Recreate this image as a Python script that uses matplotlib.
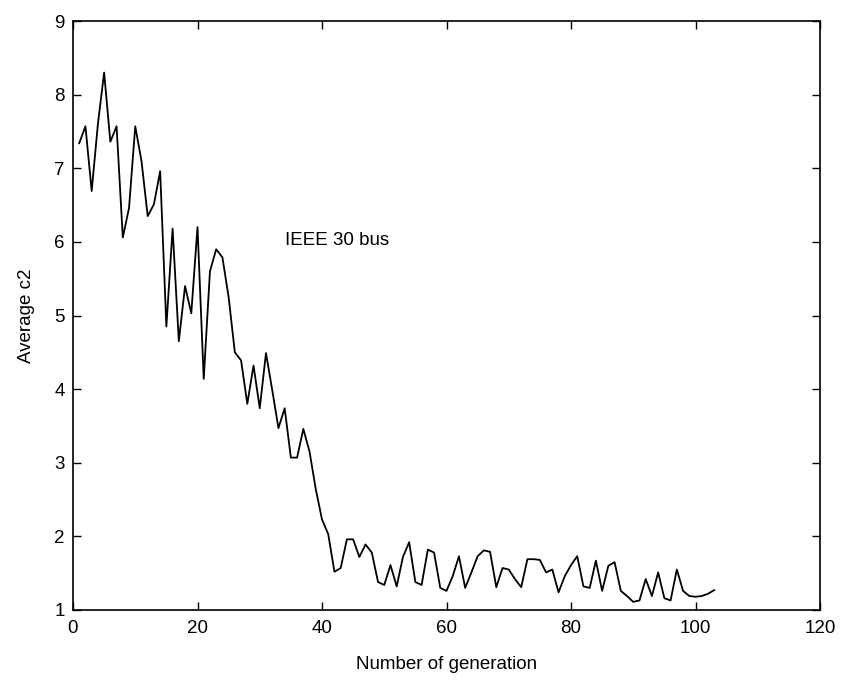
import matplotlib
matplotlib.use("Agg")
import matplotlib.pyplot as plt

# average c2 per generation
generation = list(range(1, 104))
avg_c2 = [
    7.34, 7.57, 6.69, 7.60, 8.30, 7.36, 7.57, 6.06, 6.46, 7.57,
    7.10, 6.35, 6.51, 6.96, 4.85, 6.18, 4.65, 5.40, 5.03, 6.20,
    4.14, 5.60, 5.90, 5.79, 5.25, 4.50, 4.39, 3.80, 4.32, 3.74,
    4.49, 3.99, 3.47, 3.74, 3.07, 3.07, 3.46, 3.15, 2.64, 2.23,
    2.03, 1.52, 1.57, 1.96, 1.96, 1.72, 1.89, 1.78, 1.38, 1.34,
    1.61, 1.32, 1.72, 1.92, 1.38, 1.34, 1.82, 1.78, 1.30, 1.26,
    1.46, 1.73, 1.30, 1.51, 1.73, 1.81, 1.79, 1.31, 1.57, 1.55,
    1.42, 1.31, 1.69, 1.69, 1.68, 1.51, 1.55, 1.24, 1.46, 1.61,
    1.73, 1.32, 1.30, 1.67, 1.26, 1.60, 1.65, 1.26, 1.19, 1.11,
    1.13, 1.42, 1.19, 1.51, 1.16, 1.13, 1.55, 1.26, 1.19, 1.18,
    1.19, 1.22, 1.27,
]

plt.rcParams["font.family"] = ["Liberation Sans", "DejaVu Sans"]

fig = plt.figure(figsize=(8.43, 6.84), dpi=100)
fig.patch.set_facecolor("white")
ax = fig.add_axes([73 / 843, 1 - 610 / 684, (820 - 73) / 843, (610 - 21) / 684])

ax.plot(generation, avg_c2, color="black", lw=1.3)

ax.set_xlim(0, 120)
ax.set_ylim(1, 9)
ax.set_xticks(range(0, 121, 20))
ax.set_yticks(range(1, 10))
ax.tick_params(direction="in", top=True, right=True, length=6, width=1,
               labelsize=13.5)
ax.tick_params(axis="x", pad=7)
ax.tick_params(axis="y", pad=6)
for s in ax.spines.values():
    s.set_linewidth(1.2)

ax.text(34, 6.02, "IEEE 30 bus", fontsize=13.5, va="center", ha="left")
ax.set_xlabel("Number of generation", fontsize=13.5, labelpad=14)
ax.set_ylabel("Average c2", fontsize=13.5, labelpad=14)

fig.savefig("out.png", dpi=100, facecolor="white")
plt.close(fig)
